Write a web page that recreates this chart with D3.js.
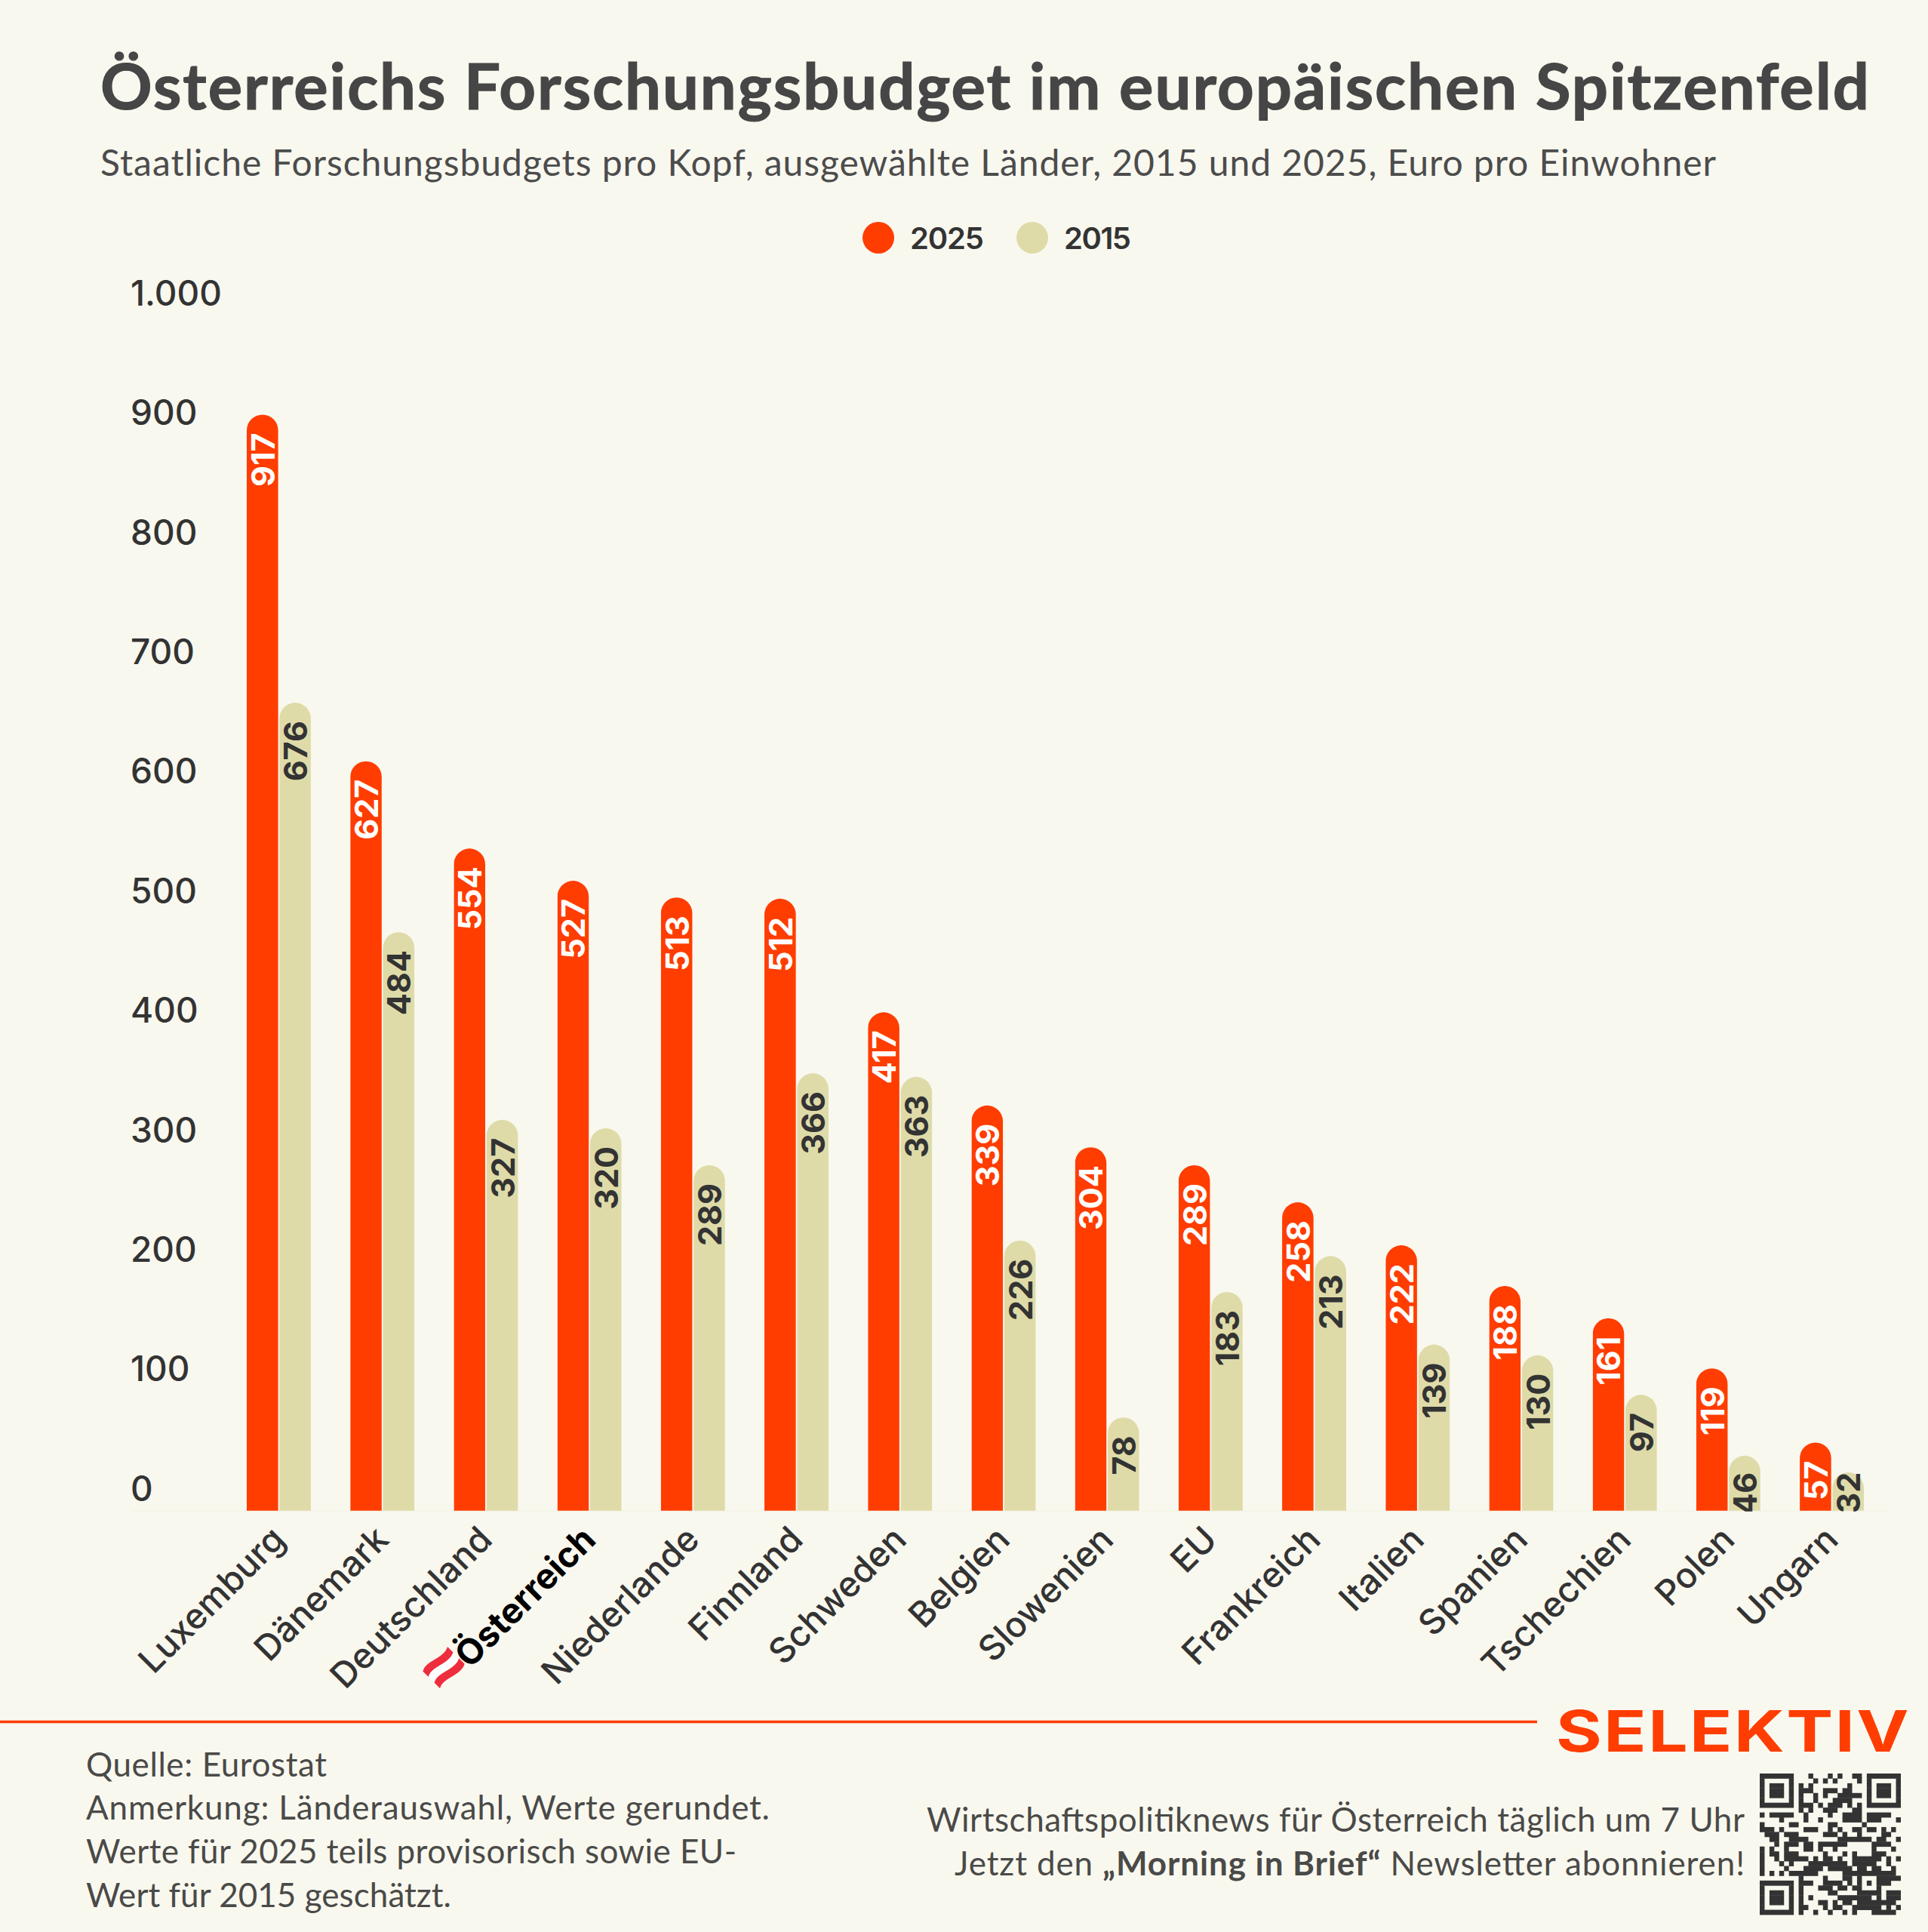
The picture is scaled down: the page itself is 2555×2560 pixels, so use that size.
<!DOCTYPE html>
<html lang="de">
<head>
<meta charset="utf-8">
<title>Österreichs Forschungsbudget</title>
<script src="https://cdn.jsdelivr.net/npm/d3@7"></script>
<style>
  html, body { margin: 0; padding: 0; background: #f9f8ef; }
  svg { display: block; }
  text { font-family: Lato, sans-serif; }
  .num { font-family: Inter, sans-serif; }
</style>
</head>
<body>
<div id="chart"></div>
<script>
// Data
var countries = ["Luxemburg", "Dänemark", "Deutschland", "Österreich", "Niederlande", "Finnland", "Schweden", "Belgien",
  "Slowenien", "EU", "Frankreich", "Italien", "Spanien", "Tschechien", "Polen", "Ungarn"];
var values2025 = [917, 627, 554, 527, 513, 512, 417, 339, 304, 289, 258, 222, 188, 161, 119, 57];
var values2015 = [676, 484, 327, 320, 289, 366, 363, 226, 78, 183, 213, 139, 130, 97, 46, 32];
var seriesNames = ["2025", "2015"];
var yTicks = [0, 100, 200, 300, 400, 500, 600, 700, 800, 900, 1000];
var yTickLabels = ["0", "100", "200", "300", "400", "500", "600", "700", "800", "900", "1.000"];

var footerLines = ["Quelle: Eurostat", "Anmerkung: Länderauswahl, Werte gerundet.",
  "Werte für 2025 teils provisorisch sowie EU-", "Wert für 2015 geschätzt."];

// dark columns per row of the QR code
var qrRows = [
  "0-6 10 14 16 19-20 22-28",
  "0 6 11 13 15 20 22 28",
  "0 2-4 6 8 10 18 22 24-26 28",
  "0 2-4 6 8-10 13-15 17-18 22 24-26 28",
  "0 2-4 6 8 11 13 16-20 22 24-26 28",
  "0 6 8 11 15-18 22 28",
  "0-6 8-10 12 14-16 18 20 22-28",
  "8 10 13-15 19-20",
  "0 2-6 9 14 17-20 22-26",
  "4 9 12 17-20 22-24 28",
  "0 6-7 14-15 21",
  "0-2 4 9-11 14 16 19-20 22-23 25 27",
  "1-3 5-7 13-15 17 20 25-26",
  "2-3 6-9 16-22 24-25 28",
  "3 5-7 9-10 12-17 23-26",
  "0 2 5 9-10 12 15 23 27",
  "0 2-3 5-7 13 17 19 23-25",
  "0 3 5-9 11 13-14 16 19-24 26 28",
  "0 4 6 10-17 19-23 26",
  "0 5 9-12 14-18 20-21 23-24 27",
  "0 2 4 6-11 17-27",
  "8 13 17-18 20 24-28",
  "0-6 8-10 13-16 18 20 22 24-26",
  "0 6 8 12-14 16-17 19-20 24",
  "0 2-4 6 8 14-15 20-24 26-28",
  "0 2-4 6 8 10 16-22 24 26-28",
  "0 2-4 6 8 12-13 15 17-18 20-27",
  "0 6 8-9 13 15-16 19-24 26 28",
  "0-6 8 11 14 17 19 23-27"
];

var RED = "#ff3d00";
var BEIGE = "#dfdba9";
var DARK = "#333333";
var GREY = "#464646";

var svgWidth = 2555;
var svgHeight = 2560;

var svg = d3.select("#chart")
  .append("svg")
  .attr("width", svgWidth)
  .attr("height", svgHeight);

svg.append("rect")
  .attr("width", svgWidth)
  .attr("height", svgHeight)
  .attr("fill", "#f9f8ef");

// Scales
var yBase = 2001.7;
var y = d3.scaleLinear().domain([0, 1000]).range([yBase, 418]);

var x0 = d3.scaleBand()
  .domain(countries)
  .range([327, 2470])
  .paddingInner(0.381)
  .paddingOuter(0);

var x1 = d3.scaleBand()
  .domain(seriesNames)
  .range([0, x0.bandwidth()])
  .paddingInner(0.04);

// Header
svg.append("text")
  .attr("x", 133)
  .attr("y", 145)
  .attr("textLength", 2344)
  .attr("font-size", 85)
  .attr("font-weight", 700)
  .attr("fill", GREY)
  .attr("stroke", GREY)
  .attr("stroke-width", 1.2)
  .text("Österreichs Forschungsbudget im europäischen Spitzenfeld");

svg.append("text")
  .attr("x", 133)
  .attr("y", 232.5)
  .attr("textLength", 2141)
  .attr("font-size", 48)
  .attr("fill", "#4c4c4c")
  .text("Staatliche Forschungsbudgets pro Kopf, ausgewählte Länder, 2015 und 2025, Euro pro Einwohner");

// Legend
var legendItems = [
  { name: seriesNames[0], color: RED, cx: 1164, tx: 1206, w: 98 },
  { name: seriesNames[1], color: BEIGE, cx: 1368, tx: 1410, w: 89 }
];

legendItems.forEach(function(item) {
  svg.append("circle")
    .attr("cx", item.cx)
    .attr("cy", 315)
    .attr("r", 21)
    .attr("fill", item.color);
  svg.append("text")
    .attr("class", "num")
    .attr("x", item.tx)
    .attr("y", 330)
    .attr("textLength", item.w)
    .attr("font-size", 40)
    .attr("font-weight", 600)
    .attr("fill", DARK)
    .text(item.name);
});

// Faint baseline
svg.append("line")
  .attr("x1", 175)
  .attr("x2", 2503)
  .attr("y1", yBase + 0.5)
  .attr("y2", yBase + 0.5)
  .attr("stroke", "#f5f4e8")
  .attr("stroke-width", 2);

// y axis, labels sit above their (invisible) grid lines
var yAxis = svg.append("g")
  .attr("transform", "translate(173,0)")
  .call(d3.axisLeft(y)
    .tickValues(yTicks)
    .tickSize(0)
    .tickFormat(function(d, i) { return yTickLabels[i]; }));

yAxis.select(".domain").remove();
yAxis.selectAll("text")
  .attr("class", "num")
  .attr("x", 0)
  .attr("y", -13.5)
  .attr("dy", 0)
  .attr("text-anchor", "start")
  .attr("font-size", 46)
  .attr("font-weight", 500)
  .attr("fill", DARK);

// x axis
var xAxis = svg.append("g")
  .attr("transform", `translate(0,${yBase})`)
  .call(d3.axisBottom(x0).tickSize(0));

xAxis.select(".domain").remove();
xAxis.selectAll("text")
  .attr("class", "num")
  .attr("x", 0)
  .attr("y", 0)
  .attr("dy", 0)
  .attr("transform", "translate(11,41) rotate(-45)")
  .attr("text-anchor", "end")
  .attr("font-size", 46.5)
  .attr("font-weight", d => d === "Österreich" ? 700 : 500)
  .attr("fill", d => d === "Österreich" ? "#000000" : DARK);

// Austrian flag in front of the label
var flag = xAxis.selectAll(".tick")
  .filter(d => d === "Österreich")
  .append("g")
  .attr("transform", "translate(-193,208) rotate(-45)");

function stripe(top, bottom) {
  return `M-23,${top} C-10,${top - 8} 8,${top + 8} 23,${top} L23,${bottom} C8,${bottom + 8} -10,${bottom - 8} -23,${bottom} Z`;
}

flag.append("path").attr("d", stripe(-16, -5.5)).attr("fill", "#ee2d3d");
flag.append("path").attr("d", stripe(-5.5, 5.5)).attr("fill", "#ffffff");
flag.append("path").attr("d", stripe(5.5, 16)).attr("fill", "#ee2d3d");

// Bars
var rows = countries.map(function(c, i) {
  return { country: c, values: [
    { series: seriesNames[0], value: values2025[i], fill: RED, label: "#ffffff" },
    { series: seriesNames[1], value: values2015[i], fill: BEIGE, label: DARK }
  ] };
});

function topRounded(w, top) {
  var r = w / 2;
  return `M0,${yBase} L0,${top + r} A${r},${r} 0 0 1 ${w},${top + r} L${w},${yBase} Z`;
}

svg.append("clipPath")
  .attr("id", "plot-clip")
  .append("rect")
  .attr("x", 0)
  .attr("y", 0)
  .attr("width", svgWidth)
  .attr("height", yBase + 1);

var groups = svg.selectAll(".country")
  .data(rows)
  .enter()
  .append("g")
  .attr("class", "country")
  .attr("clip-path", "url(#plot-clip)")
  .attr("transform", d => `translate(${x0(d.country)},0)`);

var bars = groups.selectAll("g")
  .data(d => d.values)
  .enter()
  .append("g")
  .attr("transform", d => `translate(${x1(d.series)},0)`);

bars.append("path")
  .attr("d", d => topRounded(x1.bandwidth(), y(d.value)))
  .attr("fill", d => d.fill);

// value labels run upward, small bars push them down to the base
bars.append("text")
  .attr("class", "num")
  .attr("transform", d => `translate(${x1.bandwidth() / 2 + 16},${Math.min(y(d.value) + 24, yBase - 51)}) rotate(-90)`)
  .attr("text-anchor", "end")
  .attr("font-size", 43)
  .attr("font-weight", 700)
  .attr("fill", d => d.label)
  .text(d => d.value);

// Footer
svg.append("line")
  .attr("x1", 0)
  .attr("x2", 2037)
  .attr("y1", 2281.5)
  .attr("y2", 2281.5)
  .attr("stroke", RED)
  .attr("stroke-width", 3.5);

svg.append("text")
  .attr("class", "num")
  .attr("x", 2062)
  .attr("y", 2321)
  .attr("textLength", 470)
  .attr("lengthAdjust", "spacingAndGlyphs")
  .attr("font-size", 75)
  .attr("font-weight", 700)
  .attr("letter-spacing", 2)
  .attr("fill", RED)
  .text("SELEKTIV");

var footerWidths = [319, 906, 862, 484];
var footerBase = d3.scaleLinear().domain([0, 3]).range([2353.5, 2526.5]);

svg.selectAll(".source")
  .data(footerLines)
  .enter()
  .append("text")
  .attr("class", "source")
  .attr("x", 114)
  .attr("y", (d, i) => footerBase(i))
  .attr("textLength", (d, i) => footerWidths[i])
  .attr("font-size", 44)
  .attr("fill", "#4a4a48")
  .text(d => d);

svg.append("text")
  .attr("x", 2312)
  .attr("y", 2426.5)
  .attr("text-anchor", "end")
  .attr("textLength", 1084)
  .attr("font-size", 44)
  .attr("fill", "#4a4a48")
  .text("Wirtschaftspolitiknews für Österreich täglich um 7 Uhr");

var cta = svg.append("text")
  .attr("x", 2312)
  .attr("y", 2484.5)
  .attr("text-anchor", "end")
  .attr("textLength", 1047)
  .attr("font-size", 44)
  .attr("fill", "#4a4a48");

cta.append("tspan").text("Jetzt den ");
cta.append("tspan").attr("font-weight", 700).text("„Morning in Brief“");
cta.append("tspan").text(" Newsletter abonnieren!");

// QR code
var qr = d3.scaleLinear().domain([0, qrRows.length]).range([0, 187]);
var qrCells = [];

qrRows.forEach(function(row, r) {
  row.split(" ").forEach(function(part) {
    var ends = part.split("-").map(Number);
    qrCells.push({ row: r, from: ends[0], to: ends[ends.length - 1] });
  });
});

svg.append("g")
  .attr("transform", "translate(2332,2350)")
  .selectAll("rect")
  .data(qrCells)
  .enter()
  .append("rect")
  .attr("x", d => qr(d.from))
  .attr("y", d => qr(d.row))
  .attr("width", d => qr(d.to + 1) - qr(d.from))
  .attr("height", qr(1) + 0.4)
  .attr("fill", DARK);
</script>
</body>
</html>
